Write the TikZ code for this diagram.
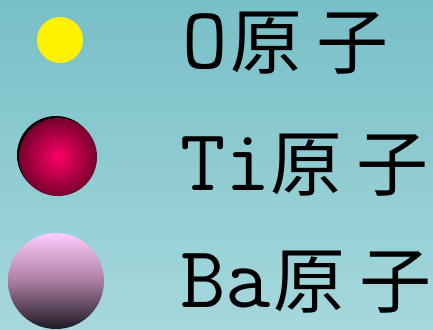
\documentclass[tikz,border=0pt]{standalone}
\usepackage{fontspec}
\newfontfamily\cjk{Noto Sans CJK SC}
\definecolor{bgtop}{RGB}{120,191,199}
\definecolor{bgbot}{RGB}{166,216,220}
\definecolor{tiin}{RGB}{255,0,102}
\definecolor{tiout}{RGB}{120,0,45}
\definecolor{batop}{RGB}{255,204,255}
\definecolor{bamid}{RGB}{170,125,160}
\definecolor{babot}{RGB}{28,24,34}
\newcommand{\yuanzi}{{\cjk\fontsize{72}{72}\selectfont 原\hspace{14pt}子}}
\tikzset{
  atom/.style={circle, inner sep=0pt, draw=none},
  label/.style={anchor=base west, inner sep=0pt, font=\fontsize{88}{88}\selectfont}
}
\begin{document}
\begin{tikzpicture}[x=1pt,y=-1pt]
\useasboundingbox (0,0) rectangle (433,329);
\shade[top color=bgtop, bottom color=bgbot] (0,0) rectangle (433,329);
% O atom
\node[atom, fill=yellow, minimum size=46pt] (oatom) at (60,40) {};
% Ti atom
\node[atom, fill=black, minimum size=78pt] (tishadow) at (56,155) {};
\node[atom, inner color=tiin, outer color=tiout, minimum size=78pt] (tiatom) at (58,157) {};
% Ba atom
\node[atom, top color=batop, bottom color=babot, middle color=bamid, minimum size=96pt] (baatom) at (56,281) {};
% labels
\node[label] (olabel) at (182,68) {\ttfamily O\hspace{3pt}\yuanzi};
\node[label] (tilabel) at (180,190) {\ttfamily Ti\yuanzi};
\node[label] (balabel) at (180,307) {\ttfamily Ba\hspace{3pt}\yuanzi};
\end{tikzpicture}
\end{document}
